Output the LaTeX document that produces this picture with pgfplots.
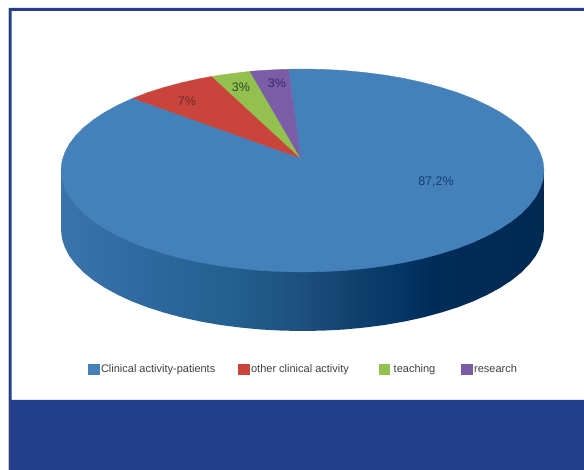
\documentclass[border=0pt]{standalone}
\usepackage{fontspec}
\setmainfont{Liberation Sans}
\usepackage{pgfplots}
\pgfplotsset{compat=1.18}
\definecolor{panelblue}{HTML}{243F8C}
\definecolor{slicea}{HTML}{4480B9}
\definecolor{sliceb}{HTML}{C9453C}
\definecolor{slicec}{HTML}{93C04F}
\definecolor{sliced}{HTML}{7B5CA6}
\definecolor{labela}{HTML}{153F70}
\definecolor{labelb}{HTML}{6B2A30}
\definecolor{labelc}{HTML}{2F4A28}
\definecolor{labeld}{HTML}{3A2A70}
\definecolor{rima}{HTML}{3A74AB}
\definecolor{rimb}{HTML}{2E689E}
\definecolor{rimc}{HTML}{24608F}
\definecolor{rimd}{HTML}{1D507E}
\definecolor{rime}{HTML}{10426E}
\definecolor{rimf}{HTML}{043766}
\definecolor{rimg}{HTML}{002C59}
\definecolor{rimh}{HTML}{002A52}
% Rim of the pie: lighter at the left, deep navy towards the right.
\pgfdeclarehorizontalshading{pierim}{100bp}{
  color(0bp)=(rima);
  color(25bp)=(rima);
  color(34bp)=(rimb);
  color(42.5bp)=(rimc);
  color(49.7bp)=(rimd);
  color(55bp)=(rime);
  color(60bp)=(rimf);
  color(63.2bp)=(rimg);
  color(75bp)=(rimh);
  color(100bp)=(rimh)}
\begin{document}
\begin{tikzpicture}
\begin{axis}[
  scale only axis, width=584pt, height=470pt,
  xmin=0, xmax=584, ymin=0, ymax=470, y dir=reverse,
  axis lines=none, clip=true,
  legend columns=4,
  legend style={at={(axis cs:88,369)}, anchor=west, draw=none, fill=none,
    font=\fontsize{11}{12}\selectfont, inner sep=0pt,
    /tikz/every even column/.append style={column sep=21pt},
    /tikz/every odd column/.append style={column sep=0pt},
    text=black!75},
  legend image code/.code={\fill[#1] (0pt,-5pt) rectangle (10.5pt,5pt);},
]
% Page background, frame and lower panel
\addplot[forget plot, draw=none, fill=white] coordinates {(0,0) (584,0) (584,470) (0,470)} --cycle;
\addplot[forget plot, draw=none, fill=black!22] coordinates {(8,8) (9,8) (9,470) (8,470)} --cycle;
\addplot[forget plot, draw=none, fill=panelblue] coordinates {(9,8) (584,8) (584,11) (11.5,11) (11.5,400) (584,400) (584,470) (9,470)} --cycle;

% Rim, drawn beneath the top face
\addplot[forget plot, draw=none, shading=pierim] coordinates {
  (61,170.5) (61,229.5) (61.9,238.4) (64.7,247.1) (69.2,255.8) (75.6,264.2) (83.6,272.4)
  (93.4,280.3) (104.7,287.7) (117.5,294.7) (131.7,301.3) (147.3,307.3) (164,312.6)
  (181.8,317.4) (200.4,321.5) (219.9,324.9) (240,327.5) (260.6,329.5) (281.4,330.6)
  (302.5,331) (323.6,330.6) (344.4,329.5) (365,327.5) (385.1,324.9) (404.6,321.5)
  (423.3,317.4) (441,312.6) (457.7,307.3) (473.3,301.3) (487.5,294.7) (500.3,287.7)
  (511.6,280.3) (521.4,272.4) (529.4,264.2) (535.8,255.8) (540.3,247.1) (543.1,238.4)
  (544,229.5) (544,170.5)} --cycle;

% Top face, one closed outline per share
\addplot[draw=slicea, line width=0.3pt, fill=slicea] coordinates {
  (300.5,158) (288.6,69.2) (302.5,69) (323.6,69.4) (344.4,70.5) (365,72.5) (385.1,75.1)
  (404.6,78.5) (423.3,82.6) (441,87.4) (457.7,92.7) (473.3,98.7) (487.5,105.3) (500.3,112.3)
  (511.6,119.8) (521.4,127.6) (529.4,135.8) (535.8,144.2) (540.3,152.9) (543.1,161.6)
  (544,170.5) (543.1,179.4) (540.3,188.1) (535.8,196.8) (529.4,205.2) (521.4,213.4)
  (511.6,221.3) (500.3,228.7) (487.5,235.7) (473.3,242.3) (457.7,248.3) (441,253.6)
  (423.3,258.4) (404.6,262.5) (385.1,265.9) (365,268.5) (344.4,270.5) (323.6,271.6)
  (302.5,272) (281.4,271.6) (260.6,270.5) (240,268.5) (219.9,265.9) (200.4,262.5)
  (181.8,258.4) (164,253.6) (147.3,248.3) (131.7,242.3) (117.5,235.7) (104.7,228.7)
  (93.4,221.3) (83.6,213.4) (75.6,205.2) (69.2,196.8) (64.7,188.1) (61.9,179.4)
  (61,170.5) (61.9,161.6) (64.7,152.9) (69.2,144.2) (75.6,135.8) (83.6,127.6)
  (93.4,119.8) (104.7,112.3) (117.5,105.3) (131.7,98.7) (133,98.2)} --cycle;
\addlegendentry{Clinical activity-patients}
\addplot[draw=sliceb, line width=0.3pt, fill=sliceb] coordinates {
  (300.5,158) (133,98.2) (147.3,92.7) (164,87.4) (181.8,82.6) (200.4,78.5) (212,76.4)} --cycle;
\addlegendentry{other clinical activity\hspace*{7pt}}
\addplot[draw=slicec, line width=0.3pt, fill=slicec] coordinates {
  (300.5,158) (212,76.4) (219.9,75.1) (240,72.5) (250,71.4)} --cycle;
\addlegendentry{\hspace*{2pt}teaching\hspace*{3pt}}
\addplot[draw=sliced, line width=0.3pt, fill=sliced] coordinates {
  (300.5,158) (250,71.4) (260.6,70.5) (281.4,69.4) (288.6,69.2)} --cycle;
\addlegendentry{research}

% Share labels
\node[font=\fontsize{12.5}{14}\selectfont, text=labela] at (axis cs:436,182) {87,2\%};
\node[font=\fontsize{12.5}{14}\selectfont, text=labelb] at (axis cs:187,101) {7\%};
\node[font=\fontsize{12.5}{14}\selectfont, text=labelc] at (axis cs:241,87) {3\%};
\node[font=\fontsize{12.5}{14}\selectfont, text=labeld] at (axis cs:277,83) {3\%};
\end{axis}
\end{tikzpicture}
\end{document}
